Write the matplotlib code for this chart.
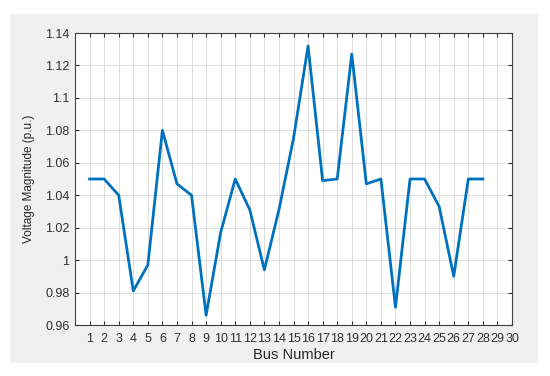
import numpy as np
import matplotlib.pyplot as plt
from matplotlib.patches import Rectangle

# Bus voltage magnitudes
bus = list(range(1, 29))
voltage = [1.050, 1.050, 1.040, 0.981, 0.997, 1.080, 1.047, 1.040, 0.966, 1.017,
           1.050, 1.031, 0.994, 1.031, 1.075, 1.132, 1.049, 1.050, 1.127, 1.047,
           1.050, 0.971, 1.050, 1.050, 1.033, 0.990, 1.050, 1.050]
x_ticks = list(range(1, 31))
y_ticks = [0.96, 0.98, 1.0, 1.02, 1.04, 1.06, 1.08, 1.1, 1.12, 1.14]
y_labels = ['0.96', '0.98', '1', '1.02', '1.04', '1.06', '1.08', '1.1', '1.12', '1.14']

plt.rcParams['font.family'] = ['Liberation Sans', 'DejaVu Sans']

fig = plt.figure(figsize=(5.5, 3.76), dpi=100)
fig.patch.set_facecolor('white')
# grey MATLAB figure panel
fig.patches.append(Rectangle((10 / 550, 1 - 363 / 376), 528 / 550, 349 / 376,
                             transform=fig.transFigure, facecolor='#f0f0f0',
                             edgecolor='none', zorder=-10))

ax = fig.add_axes([75 / 550, 1 - 325 / 376, 437 / 550, 292 / 376])
ax.plot(bus, voltage, color='#0072BD', linewidth=2)

ax.set_xlim(0, 30)
ax.set_ylim(0.96, 1.14)
ax.set_xticks(x_ticks)
ax.set_yticks(y_ticks)
ax.set_yticklabels(y_labels)
ax.grid(True, color='#dcdcdc', linewidth=0.7)
ax.set_axisbelow(True)

ax.tick_params(direction='in', top=True, right=True, length=3, width=0.8,
               colors='#303030', labelsize=9)
ax.tick_params(axis='x', pad=6)
ax.tick_params(axis='y', pad=4)
for s in ax.spines.values():
    s.set_color('#404040')
    s.set_linewidth(0.8)

ax.set_xlabel('Bus Number', fontsize=10.5, color='#262626', labelpad=2)
ax.set_ylabel('Voltage Magnitude (p.u.)', fontsize=8.5, color='#262626', labelpad=7)

fig.savefig('out.png', dpi=100)
